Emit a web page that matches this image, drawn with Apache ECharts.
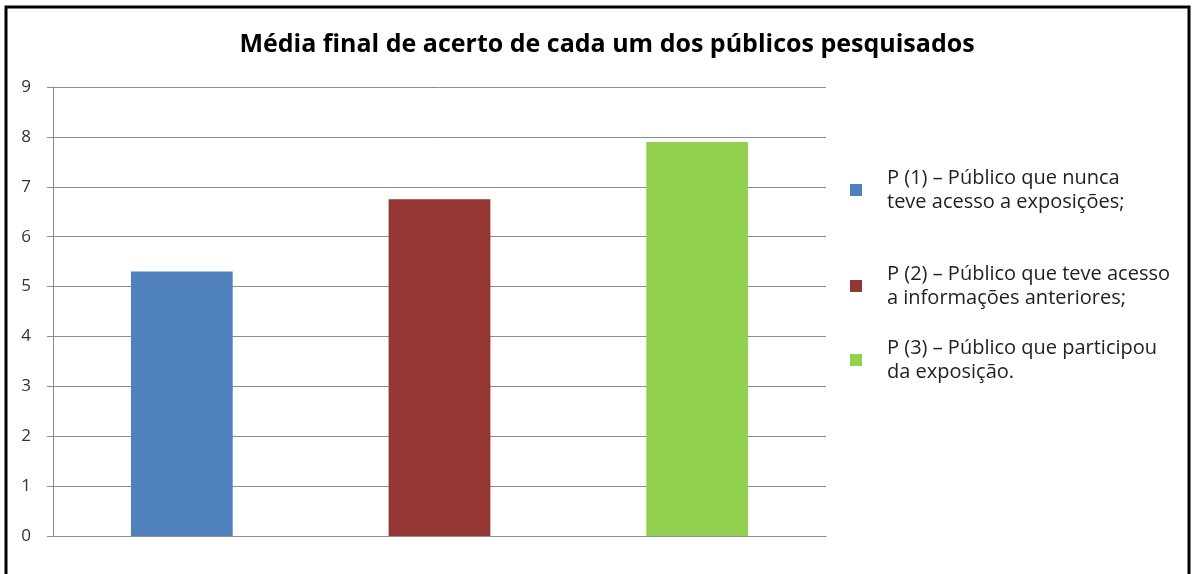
<!DOCTYPE html>
<html>
<head>
<meta charset="utf-8">
<script src="https://cdn.jsdelivr.net/npm/echarts@6/dist/echarts.min.js"></script>
<style>
  html, body { margin: 0; padding: 0; background: #fff; }
  #chart { width: 1198px; height: 574px; }
</style>
</head>
<body>
<div id="chart"></div>
<script>
// dados do gráfico
const categories = ['P (1)', 'P (2)', 'P (3)'];
const values = [5.3, 6.75, 7.9];
const seriesNames = [
  'P (1) – Público que nunca\nteve acesso a exposições;',
  'P (2) – Público que teve acesso\na informações anteriores;',
  'P (3) – Público que participou\nda exposição.'
];
const colors = ['#4f81bd', '#943634', '#92d050'];
const yTicks = [0, 1, 2, 3, 4, 5, 6, 7, 8, 9];
const legendTops = [166, 262, 336];

const font = '"Open Sans", sans-serif';

const series = categories.map((c, i) => ({
  name: seriesNames[i],
  type: 'bar',
  barWidth: '39.5%',
  barGap: '-100%',
  itemStyle: { color: colors[i] },
  data: categories.map((cc, j) => (j === i ? values[i] : '-'))
}));

const legends = seriesNames.map((n, i) => ({
  data: [n],
  orient: 'vertical',
  left: 850,
  top: legendTops[i],
  padding: 0,
  itemWidth: 12,
  itemHeight: 12,
  icon: 'rect',
  textStyle: {
    fontFamily: font,
    fontSize: 20,
    color: '#222',
    lineHeight: 24,
    padding: [0, 0, 0, 20]
  }
}));

const chart = echarts.init(document.getElementById('chart'));
chart.setOption({
  animation: false,
  backgroundColor: '#fff',
  title: {
    text: 'Média final de acerto de cada um dos públicos pesquisados',
    left: 602,
    top: 27,
    textAlign: 'center',
    textStyle: { fontFamily: font, fontSize: 25, fontWeight: 'bold', color: '#000' }
  },
  graphic: [{
    type: 'rect',
    shape: { x: 6, y: 7, width: 1183, height: 620 },
    style: { fill: 'none', stroke: '#000', lineWidth: 3 },
    silent: true
  }],
  legend: legends,
  grid: { left: 53, right: 372, top: 87, bottom: 38 },
  xAxis: {
    type: 'category',
    data: categories,
    axisLine: { lineStyle: { color: '#8c8c8c' } },
    axisTick: { show: false },
    axisLabel: { show: false }
  },
  yAxis: {
    type: 'value',
    min: yTicks[0],
    max: yTicks[yTicks.length - 1],
    interval: 1,
    axisLine: { show: true, lineStyle: { color: '#8c8c8c' } },
    axisTick: { show: true, length: 6, lineStyle: { color: '#8c8c8c' } },
    axisLabel: { fontFamily: font, fontSize: 17, color: '#333', margin: 22 },
    splitLine: { lineStyle: { color: '#8c8c8c' } }
  },
  series: series
});
</script>
</body>
</html>
